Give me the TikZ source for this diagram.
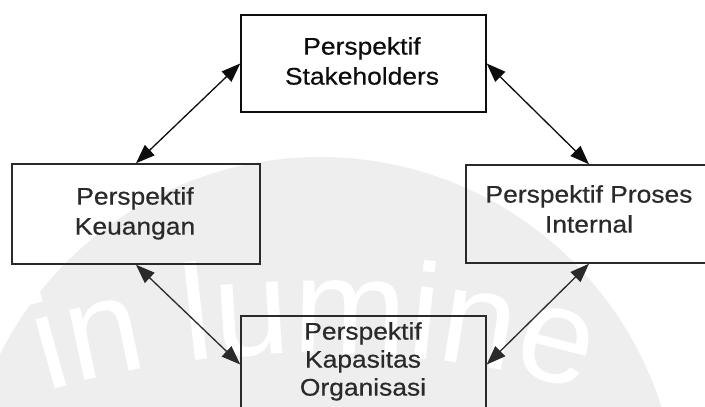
\documentclass[tikz,border=0pt]{standalone}
\usepackage{fontspec}
\setmainfont{Liberation Sans}
\newfontfamily\boxfont[FakeStretch=1.1,FakeBold=0.5]{Liberation Sans}
\newcommand\wmfont{\fontsize{136}{136}\selectfont}
\usetikzlibrary{arrows.meta,decorations.text}
\definecolor{wmgray}{HTML}{EEEEEE}
\definecolor{ink}{HTML}{0D0D0D}
\definecolor{softink}{HTML}{2A2A2A}
\begin{document}
\begin{tikzpicture}[x=1pt,y=-1pt,
  box/.style={draw, line width=1.5pt, rectangle, inner sep=0pt},
  boxtext/.style={anchor=north, inner sep=0pt, align=center,
    font=\boxfont\fontsize{24}{30}\selectfont},
  tip/.tip={Triangle[length=19pt,width=14pt]},
  link/.style={line width=1.3pt, tip-tip}]
\clip (0,0) rectangle (705,407);
\fill[white] (0,0) rectangle (705,407);

% watermark: shaded disc with the motto in white
\fill[wmgray] (320,515) circle[radius=358pt];
\path[decorate, decoration={text along path, text={|\wmfont|in lumine},
  text color=white, text align=center}]
  (20,400) .. controls (200,338) and (440,338) .. (610,400);

% the four perspectives
\node[box, draw=ink, minimum width=245pt, minimum height=97pt] (stake) at (363.5,63.5) {};
\node[box, draw=softink, minimum width=248pt, minimum height=100pt] (keu) at (136,214) {};
\node[box, draw=softink, minimum width=246pt, minimum height=98pt] (proses) at (589,214) {};
\node[box, draw=softink, minimum width=245pt, minimum height=97pt] (kap) at (363.5,364.5) {};

\node[boxtext, text=ink] (stakeT) at (362,37) {Perspektif\\Stakeholders};
\node[boxtext, text=softink] (keuT) at (135,187) {Perspektif\\Keuangan};
\node[boxtext, text=softink] (prosesT) at (589,185) {Perspektif Proses\\Internal};
\node[boxtext, text=softink, font=\boxfont\fontsize{24}{28}\selectfont] (kapT) at (363,322) {Perspektif\\Kapasitas\\Organisasi};

% two-way links
\draw[link, draw=ink, fill=ink] (stake.west) -- (keu.north);
\draw[link, draw=ink, fill=ink] (stake.east) -- (proses.north);
\draw[link, draw=softink, fill=softink] (keu.south) -- (kap.west);
\draw[link, draw=softink, fill=softink] (proses.south) -- (kap.east);
\end{tikzpicture}
\end{document}
